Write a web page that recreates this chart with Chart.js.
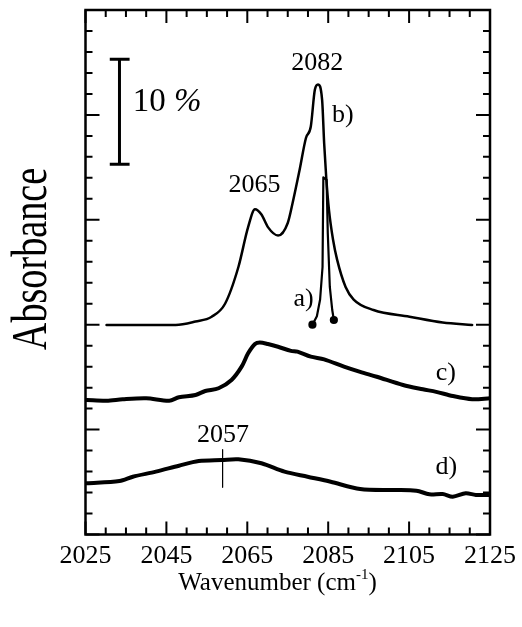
<!DOCTYPE html>
<html>
<head>
<meta charset="utf-8">
<script src="https://cdn.jsdelivr.net/npm/chart.js@4.4.0/dist/chart.umd.min.js"></script>
<style>
  html, body { margin: 0; padding: 0; background: #fff; }
</style>
</head>
<body>
<canvas id="spectra" width="522" height="627"></canvas>
<script>
// tick labels on the wavenumber axis
const xTickLabels = [2025, 2045, 2065, 2085, 2105, 2125];

// a) narrow band
const waveA = [2081.1, 2082.2, 2083.0, 2083.6, 2083.8, 2084.6, 2084.9, 2085.4, 2086.0, 2086.4];
const absA  = [20.0, 20.8, 22.4, 25.5, 34.05, 33.8, 28.7, 23.6, 21.4, 20.45];

// b) two bands, 2065 and 2082
const waveB = [2030.2, 2047.3, 2052.2, 2056.2, 2059.5, 2062.8, 2065.2, 2066.9, 2068.5, 2070.1,
               2072.6, 2075.0, 2076.2, 2077.9, 2079.5, 2080.7, 2081.7, 2082.5, 2083.5, 2084.0,
               2084.5, 2085.2, 2086.2, 2087.2, 2089.3, 2091.3, 2096.2, 2105.1, 2113.3, 2120.6];
const absB  = [19.97, 19.97, 20.3, 20.76, 22.0, 25.5, 29.3, 31.0, 30.5, 29.3,
               28.5, 29.7, 31.6, 34.7, 37.8, 38.9, 42.4, 42.9, 41.4, 37.3,
               34.1, 30.9, 28.1, 26.2, 23.6, 22.4, 21.4, 20.76, 20.2, 19.97];

// c) broad band
const waveC = [2025.3, 2030.2, 2034.2, 2040.0, 2045.7, 2048.1, 2052.2, 2054.6, 2057.9, 2061.1,
               2063.6, 2065.2, 2066.9, 2068.1, 2070.1, 2072.6, 2075.8, 2077.4, 2080.7, 2084.0,
               2088.9, 2092.9, 2097.0, 2103.5, 2108.4, 2111.7, 2115.8, 2120.6, 2125.0];
const absC  = [12.82, 12.75, 12.89, 12.98, 12.75, 13.08, 13.3, 13.68, 13.94, 14.73,
               16.0, 17.27, 18.16, 18.3, 18.16, 17.9, 17.5, 17.43, 16.95, 16.7,
               16.0, 15.5, 15.04, 14.25, 13.84, 13.6, 13.2, 12.89, 12.98];

// d) broad band near 2057
const waveD = [2025.3, 2033.4, 2036.7, 2042.4, 2048.1, 2053.0, 2058.7, 2062.8, 2068.5, 2074.2,
               2079.9, 2085.6, 2092.9, 2101.1, 2106.8, 2110.0, 2113.3, 2115.8, 2119.0, 2121.5, 2125.0];
const absD  = [4.88, 5.1, 5.51, 5.99, 6.56, 7.0, 7.1, 7.17, 6.79, 5.99,
               5.51, 5.03, 4.34, 4.24, 4.18, 3.83, 3.86, 3.6, 3.93, 3.77, 3.77];

// 2057 marker and the 10 % scale bar
const markX = [2058.9, 2058.9];
const markY = [8.1, 4.5];
const barX = [2033.4, 2033.4];
const barY = [35.3, 45.3];
const capX = [2031.0, 2035.9];

function toPoints(xs, ys) {
    return xs.map((v, i) => ({ x: v, y: ys[i] }));
}

const serif = '"Liberation Serif", "Times New Roman", serif';

// text placed on the plot (data coordinates)
const notes = [
    { text: '2082', x: 2082.3, y: 44.95 },
    { text: '2065', x: 2066.8, y: 33.3 },
    { text: '2057', x: 2059.0, y: 9.49 },
    { text: 'b)', x: 2088.6, y: 40.0 },
    { text: 'a)', x: 2078.9, y: 22.4 },
    { text: 'c)', x: 2114.1, y: 15.4 },
    { text: 'd)', x: 2114.2, y: 6.46 }
];

const framePlugin = {
    id: 'framePlugin',
    afterDatasetsDraw(chart) {
        const ctx = chart.ctx;
        const a = chart.chartArea;
        const x = chart.scales.x;
        const y = chart.scales.y;
        ctx.save();
        ctx.strokeStyle = '#000';
        ctx.fillStyle = '#000';

        // box
        ctx.lineWidth = 2.5;
        ctx.strokeRect(a.left, a.top, a.right - a.left, a.bottom - a.top);

        // inward ticks on all four sides
        ctx.lineWidth = 2;
        ctx.beginPath();
        for (let v = 2025; v <= 2125; v += 5) {
            const px = x.getPixelForValue(v);
            const len = (v - 2025) % 20 === 0 ? 13 : 7;
            ctx.moveTo(px, a.bottom); ctx.lineTo(px, a.bottom - len);
            ctx.moveTo(px, a.top); ctx.lineTo(px, a.top + len);
        }
        for (let v = 0; v <= 50; v += 2) {
            const py = y.getPixelForValue(v);
            const len = v % 10 === 0 ? 14 : 7;
            ctx.moveTo(a.left, py); ctx.lineTo(a.left + len, py);
            ctx.moveTo(a.right, py); ctx.lineTo(a.right - len, py);
        }
        ctx.stroke();

        // peak and curve labels
        ctx.font = '26px ' + serif;
        ctx.textAlign = 'center';
        ctx.textBaseline = 'middle';
        notes.forEach(n => {
            ctx.fillText(n.text, x.getPixelForValue(n.x), y.getPixelForValue(n.y));
        });

        // "10 %" next to the scale bar
        ctx.textAlign = 'left';
        ctx.font = '33px ' + serif;
        const lx = x.getPixelForValue(2036.7);
        const ly = y.getPixelForValue(41.2);
        ctx.fillText('10 ', lx, ly);
        const w = ctx.measureText('10 ').width;
        ctx.font = 'italic 33px ' + serif;
        ctx.fillText('%', lx + w, ly);

        // axis titles
        ctx.font = '25px ' + serif;
        ctx.textBaseline = 'alphabetic';
        const main = 'Wavenumber (cm';
        ctx.font = '25px ' + serif;
        const w1 = ctx.measureText(main).width;
        ctx.font = '15px ' + serif;
        const w2 = ctx.measureText('-1').width;
        ctx.font = '25px ' + serif;
        const w3 = ctx.measureText(')').width;
        let tx = a.left + 192 - (w1 + w2 + w3) / 2;
        const ty = 590;
        ctx.fillText(main, tx, ty);
        ctx.font = '15px ' + serif;
        ctx.fillText('-1', tx + w1, ty - 11);
        ctx.font = '25px ' + serif;
        ctx.fillText(')', tx + w1 + w2, ty);

        ctx.save();
        ctx.translate(46, 259);
        ctx.rotate(-Math.PI / 2);
        ctx.scale(0.83, 1.1);
        ctx.font = '46px ' + serif;
        ctx.textAlign = 'center';
        ctx.fillText('Absorbance', 0, 0);
        ctx.restore();

        ctx.restore();
    }
};

function lineSet(points, width, extra) {
    return Object.assign({
        data: points,
        showLine: true,
        borderColor: '#000',
        backgroundColor: '#000',
        borderWidth: width,
        pointRadius: 0,
        tension: 0.3,
        borderCapStyle: 'round',
        borderJoinStyle: 'round'
    }, extra || {});
}

const ctx = document.getElementById('spectra').getContext('2d');
new Chart(ctx, {
    type: 'scatter',
    data: {
        datasets: [
            lineSet(toPoints(waveB, absB), 2.5, { cubicInterpolationMode: 'monotone' }),
            lineSet(toPoints(waveA, absA), 2.2, {
                tension: 0,
                pointRadius: waveA.map((v, i) => (i === 0 || i === waveA.length - 1) ? 3 : 0)
            }),
            lineSet(toPoints(waveC, absC), 4),
            lineSet(toPoints(waveD, absD), 4),
            lineSet(toPoints(markX, markY), 1.2, { tension: 0, borderCapStyle: 'butt' }),
            lineSet(toPoints(barX, barY), 3, { tension: 0, borderCapStyle: 'butt' }),
            lineSet(toPoints(capX, [barY[0], barY[0]]), 3, { tension: 0, borderCapStyle: 'butt' }),
            lineSet(toPoints(capX, [barY[1], barY[1]]), 3, { tension: 0, borderCapStyle: 'butt' })
        ]
    },
    options: {
        responsive: false,
        animation: false,
        layout: { padding: { top: 10, right: 27.5, left: 0, bottom: 0 } },
        plugins: {
            legend: { display: false },
            tooltip: { enabled: false }
        },
        scales: {
            x: {
                type: 'linear',
                min: 2025,
                max: 2125,
                afterBuildTicks: scale => {
                    scale.ticks = xTickLabels.map(v => ({ value: v }));
                },
                afterFit: scale => { scale.height = 92.5; },
                grid: { display: false, drawTicks: false },
                border: { display: false },
                ticks: {
                    color: '#000',
                    font: { family: serif, size: 26 },
                    padding: 6,
                    maxRotation: 0,
                    autoSkip: false,
                    callback: v => String(v)
                }
            },
            y: {
                min: 0,
                max: 50,
                afterFit: scale => { scale.width = 85.5; },
                grid: { display: false, drawTicks: false },
                border: { display: false },
                ticks: { display: false }
            }
        }
    },
    plugins: [framePlugin]
});
</script>
</body>
</html>
